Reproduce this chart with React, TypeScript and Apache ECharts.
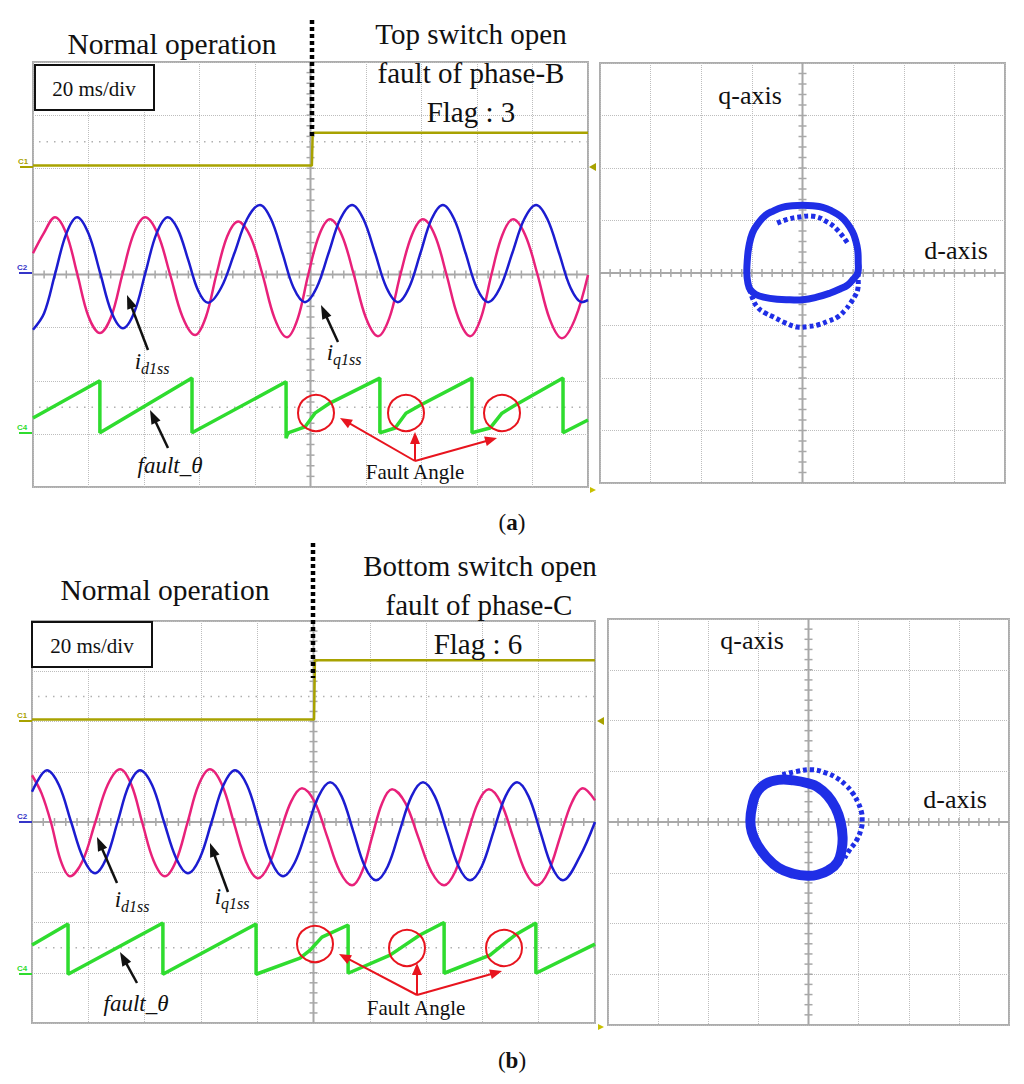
import React, { useEffect, useRef } from "react";
import * as echarts from "echarts";

const FONT = "'Liberation Serif', 'Times New Roman', serif";

// ---- axis settings (oscilloscope: 20 ms/div, 8 vertical divisions) ----
const TIME_MIN = 0;
const TIME_MAX = 200;
const TIME_DIV = 20;
const DIV_MIN = 0;
const DIV_MAX = 8;
const XY_MIN = -4;
const XY_MAX = 4;

// ---- panel (a) traces: [time ms, divisions] ----
const C1_A = [[0, 6.05], [100.5, 6.05], [100.8, 6.67], [200, 6.67]];
const PINK_A = [[0, 4.4], [3.8, 4.77], [7.9, 5.08], [12.0, 4.77], [16.0, 4.0], [20.0, 3.21], [24.1, 2.9], [28.2, 3.21], [32.2, 4.0], [36.3, 4.77], [40.4, 5.08], [44.9, 4.77], [49.4, 4.0], [53.9, 3.2], [58.4, 2.86], [62.3, 3.2], [66.1, 4.0], [70.0, 4.72], [73.9, 5.0], [78.3, 4.72], [82.7, 4.0], [87.1, 3.17], [91.5, 2.82], [95.4, 3.17], [99.2, 4.0], [103.1, 4.74], [107.0, 5.04], [111.3, 4.74], [115.6, 4.0], [120.0, 3.18], [124.3, 2.84], [128.4, 3.18], [132.4, 4.0], [136.5, 4.74], [140.5, 5.04], [144.8, 4.74], [149.0, 4.0], [153.3, 3.18], [157.5, 2.84], [161.4, 3.18], [165.2, 4.0], [169.1, 4.74], [173.0, 5.04], [177.4, 4.74], [181.8, 4.0], [186.2, 3.16], [190.6, 2.8], [195.3, 3.16], [200, 3.99]];
const BLUE_A = [[0, 2.96], [4.0, 3.27], [8.0, 4.02], [12.0, 4.77], [15.9, 5.08], [20.0, 4.77], [24.2, 4.03], [28.3, 3.29], [32.4, 2.99], [36.5, 3.29], [40.5, 4.03], [44.5, 4.77], [48.6, 5.08], [52.2, 4.85], [55.9, 4.28], [59.5, 3.7], [63.1, 3.47], [67.8, 3.75], [72.5, 4.39], [77.1, 5.04], [81.8, 5.31], [85.8, 5.04], [89.9, 4.4], [93.9, 3.75], [98.0, 3.48], [102.2, 3.75], [106.5, 4.4], [110.7, 5.04], [115.0, 5.31], [119.1, 5.04], [123.3, 4.4], [127.4, 3.75], [131.5, 3.48], [135.5, 3.75], [139.6, 4.4], [143.6, 5.04], [147.7, 5.31], [151.8, 5.04], [155.9, 4.4], [159.9, 3.75], [164.0, 3.48], [168.3, 3.75], [172.7, 4.4], [177.0, 5.04], [181.3, 5.31], [185.4, 5.04], [189.6, 4.4], [193.7, 3.75], [197.8, 3.48], [200, 3.52]];
const C4_A = [[0, 1.3], [24.1, 2.0], [24.1, 1.02], [57.3, 2.05], [57.3, 1.02], [91.2, 1.98], [91.2, 0.92], [91.9, 1.02], [98.0, 1.13], [101.6, 1.39], [107.0, 1.58], [125.0, 2.05], [125.0, 1.02], [130.5, 1.11], [134.4, 1.39], [139.5, 1.54], [158.2, 2.05], [158.2, 1.02], [164.7, 1.11], [169.0, 1.39], [173.7, 1.54], [191.0, 2.05], [191.0, 1.02], [200, 1.26]];

// ---- panel (b) traces ----
const C1_B = [[0, 6.04], [100.2, 6.04], [100.5, 7.22], [200, 7.22]];
const PINK_B = [[0, 4.93], [3.4, 4.57], [6.8, 3.98], [10.2, 3.23], [13.5, 2.92], [18.0, 3.23], [22.4, 3.98], [26.9, 4.74], [31.3, 5.05], [35.3, 4.74], [39.2, 3.98], [43.2, 3.23], [47.2, 2.92], [51.2, 3.23], [55.2, 3.98], [59.2, 4.74], [63.2, 5.05], [67.5, 4.74], [71.8, 3.97], [76.1, 3.2], [80.3, 2.88], [84.2, 3.15], [88.1, 3.78], [92.0, 4.4], [95.9, 4.67], [100.4, 4.4], [104.8, 3.72], [109.3, 3.02], [113.7, 2.74], [117.3, 3.02], [120.8, 3.7], [124.4, 4.38], [127.9, 4.65], [132.6, 4.38], [137.2, 3.7], [141.8, 3.02], [146.4, 2.74], [150.4, 3.02], [154.4, 3.7], [158.4, 4.38], [162.3, 4.65], [166.6, 4.38], [170.9, 3.7], [175.2, 3.02], [179.4, 2.74], [183.5, 3.02], [187.6, 3.7], [191.7, 4.38], [195.7, 4.67], [200, 4.43]];
const BLUE_B = [[0, 4.6], [5.3, 5.03], [9.6, 4.73], [13.9, 4.0], [18.2, 3.28], [22.4, 2.98], [26.4, 3.28], [30.4, 4.0], [34.4, 4.73], [38.4, 5.03], [42.7, 4.73], [46.9, 4.0], [51.2, 3.28], [55.4, 2.98], [59.6, 3.28], [63.8, 4.0], [68.0, 4.73], [72.1, 5.03], [76.4, 4.73], [80.7, 3.98], [85.0, 3.22], [89.2, 2.92], [93.4, 3.2], [97.6, 3.85], [101.8, 4.51], [105.9, 4.79], [110.0, 4.51], [114.1, 3.82], [118.2, 3.12], [122.2, 2.84], [126.4, 3.12], [130.6, 3.82], [134.8, 4.51], [138.9, 4.79], [143.1, 4.51], [147.3, 3.82], [151.5, 3.12], [155.6, 2.84], [159.8, 3.12], [164.0, 3.82], [168.2, 4.51], [172.3, 4.79], [176.4, 4.51], [180.5, 3.82], [184.6, 3.12], [188.6, 2.84], [194.5, 3.3], [200, 4.0]];
const C4_B = [[0, 1.55], [12.8, 1.97], [12.8, 0.97], [46.5, 1.99], [46.5, 0.97], [79.6, 1.97], [79.6, 0.97], [95.2, 1.29], [98.8, 1.45], [103.0, 1.71], [112.3, 1.95], [112.3, 0.99], [127.2, 1.35], [137.8, 1.75], [146.4, 2.0], [146.4, 0.99], [162.7, 1.35], [171.6, 1.75], [179.0, 1.99], [179.0, 0.99], [200, 1.57]];

// ---- d-q trajectories: [d div, q div] (closed loops listed once around) ----
const XY_A_MAIN = [[1.09, 0], [1.1, 0.22], [1.09, 0.44], [1.05, 0.62], [0.99, 0.78], [0.88, 0.95], [0.75, 1.08], [0.58, 1.18], [0.4, 1.25], [0.2, 1.28], [0, 1.29], [-0.2, 1.28], [-0.4, 1.25], [-0.58, 1.18], [-0.73, 1.1], [-0.88, 0.94], [-0.99, 0.76], [-1.06, 0.5], [-1.09, 0.25], [-1.1, 0], [-1.08, -0.18], [-1.03, -0.32], [-0.92, -0.41], [-0.77, -0.46], [-0.5, -0.5], [-0.25, -0.51], [0, -0.51], [0.28, -0.46], [0.55, -0.38], [0.75, -0.3], [0.89, -0.23], [1.0, -0.12]];
const XY_A_OUTER = [[-1.08, -0.18], [-1.0, -0.45], [-0.89, -0.65], [-0.74, -0.76], [-0.57, -0.84], [-0.34, -0.95], [-0.1, -1.03], [0.1, -1.02], [0.3, -0.99], [0.5, -0.92], [0.69, -0.84], [0.84, -0.71], [0.95, -0.57], [1.03, -0.45], [1.09, -0.32], [1.1, -0.1], [1.09, 0.1]];
const XY_A_ARC = [[-0.5, 0.95], [-0.3, 1.02], [-0.1, 1.06], [0.22, 1.08], [0.49, 0.97], [0.69, 0.82], [0.89, 0.57]];
const XY_B_MAIN = [[-1.16, 0.04], [-1.12, 0.33], [-1.04, 0.57], [-0.86, 0.75], [-0.6, 0.83], [-0.3, 0.82], [0.0, 0.76], [0.18, 0.69], [0.38, 0.52], [0.54, 0.28], [0.64, 0.0], [0.68, -0.3], [0.66, -0.55], [0.58, -0.79], [0.4, -0.95], [0.18, -1.04], [-0.02, -1.06], [-0.3, -1.02], [-0.6, -0.9], [-0.84, -0.69], [-1.02, -0.45], [-1.13, -0.2]];
const XY_B_OUTER = [[-0.52, 0.93], [-0.22, 1.0], [0.08, 1.03], [0.34, 0.97], [0.56, 0.87], [0.74, 0.73], [0.88, 0.57], [0.99, 0.38], [1.06, 0.18], [1.07, 0.04], [1.06, -0.1], [0.96, -0.36], [0.82, -0.55], [0.72, -0.71]];

const PINK = "#e8217a";
const BLUE = "#1c1cd0";
const GREEN = "#2fdc2f";
const OLIVE = "#a8a200";
const XYBLUE = "#1f2ee6";
const RED = "#e8141e";
const GRAY = "#a8a8a8";

const GRIDS = [
  { left: 33, top: 62, width: 555, height: 425 },
  { left: 600, top: 63, width: 405, height: 420 },
  { left: 32, top: 621, width: 563, height: 402 },
  { left: 608, top: 619, width: 401, height: 406 },
];

function crossData(kind) {
  const out = [];
  if (kind === "time") {
    const cx = (TIME_MIN + TIME_MAX) / 2;
    const cy = (DIV_MIN + DIV_MAX) / 2;
    out.push([cx, cy, 2], [cx, cy, 3], [cx, 6.5, 4], [cx, 1.5, 4]);
    for (let i = 1; i < 50; i++) out.push([TIME_MIN + i * 4, cy, 0]);
    for (let i = 1; i < 40; i++) out.push([cx, DIV_MIN + i * 0.2, 1]);
  } else {
    out.push([0, 0, 2], [0, 0, 3]);
    for (let i = 1; i < 40; i++) {
      out.push([XY_MIN + i * 0.2, 0, 0]);
      out.push([0, XY_MIN + i * 0.2, 1]);
    }
  }
  return out;
}

function renderCross(params, api) {
  const kind = api.value(2);
  const p = api.coord([api.value(0), api.value(1)]);
  const cs = params.coordSys;
  const st = { stroke: GRAY, lineWidth: 1.5 };
  if (kind === 0) return { type: "line", shape: { x1: p[0], y1: p[1] - 4, x2: p[0], y2: p[1] + 4 }, style: st };
  if (kind === 1) return { type: "line", shape: { x1: p[0] - 4, y1: p[1], x2: p[0] + 4, y2: p[1] }, style: st };
  if (kind === 2) return { type: "line", shape: { x1: cs.x, y1: p[1], x2: cs.x + cs.width, y2: p[1] }, style: { stroke: GRAY, lineWidth: 2 } };
  if (kind === 3) return { type: "line", shape: { x1: p[0], y1: cs.y, x2: p[0], y2: cs.y + cs.height }, style: { stroke: GRAY, lineWidth: 2 } };
  return { type: "line", shape: { x1: cs.x + 6, y1: p[1], x2: cs.x + cs.width, y2: p[1] }, style: { stroke: "#b0b0b0", lineWidth: 1.5, lineDash: [1.5, 6] } };
}

// d-q trajectory drawn through the cartesian axes (api.coord) as a smooth curve
function loopSeries(points, gi, width, closed, dash) {
  return {
    type: "custom", xAxisIndex: gi, yAxisIndex: gi, z: 3, silent: true,
    data: [points[0]],
    renderItem: (params, api) => ({
      type: closed ? "polygon" : "polyline",
      shape: { points: points.map((p) => api.coord(p)), smooth: 0.45 },
      style: { fill: "none", stroke: XYBLUE, lineWidth: width, lineDash: dash ? [4, 3] : null },
    }),
  };
}

function arrow(x1, y1, x2, y2, color, w, hl, hw) {
  const dx = x2 - x1, dy = y2 - y1;
  const L = Math.hypot(dx, dy);
  const ux = dx / L, uy = dy / L;
  const bx = x2 - ux * hl, by = y2 - uy * hl;
  const px = (-uy * hw) / 2, py = (ux * hw) / 2;
  return [
    { type: "line", z: 100, shape: { x1, y1, x2: bx + ux * 1, y2: by + uy * 1 }, style: { stroke: color, lineWidth: w } },
    { type: "polygon", z: 100, shape: { points: [[x2, y2], [bx + px, by + py], [bx - px, by - py]] }, style: { fill: color } },
  ];
}

function txt(text, x, y, size, opts = {}) {
  return {
    type: "text", z: 100, x, y,
    style: {
      text, fill: "#111", fontFamily: FONT, fontSize: size,
      fontStyle: opts.italic ? "italic" : "normal",
      align: opts.align || "center", verticalAlign: "middle",
    },
  };
}

function chan(label, color, y, tx) {
  return [
    { type: "text", z: 100, x: tx, y: y - 6, style: { text: label, fill: color, fontFamily: "'Liberation Sans', Arial, sans-serif", fontWeight: "bold", fontSize: 8, align: "left", verticalAlign: "middle" } },
    { type: "line", z: 100, shape: { x1: tx + 2, y1: y, x2: tx + 15, y2: y }, style: { stroke: color, lineWidth: 2 } },
  ];
}

function caption(letter, y) {
  return { type: "text", z: 100, x: 512, y, style: { text: "{n|(}{b|" + letter + "}{n|)}", align: "center", verticalAlign: "middle", rich: { n: { fontFamily: FONT, fontSize: 23, fill: "#111" }, b: { fontFamily: FONT, fontSize: 23, fontWeight: "bold", fill: "#111" } } } };
}

function buildGraphic() {
  const g = [];
  // panel (a)
  g.push(txt("Normal operation", 172, 44, 29.5));
  g.push(txt("Top switch open", 471, 34, 29));
  g.push(txt("fault of phase-B", 471, 73, 29));
  g.push(txt("Flag : 3", 471, 112, 29));
  g.push({ type: "rect", z: 100, shape: { x: 35, y: 65, width: 119, height: 45 }, style: { fill: "#fff", stroke: "#111", lineWidth: 2 } });
  g.push(txt("20 ms/div", 94, 89, 21));
  g.push({ type: "line", z: 101, shape: { x1: 312, y1: 20, x2: 312, y2: 137 }, style: { stroke: "#000", lineWidth: 4.5, lineDash: [4, 3] } });
  g.push(...chan("C1", OLIVE, 167, 18));
  g.push(...chan("C2", "#3535c8", 273, 17));
  g.push(...chan("C4", GREEN, 433, 17));
  g.push({ type: "polygon", z: 100, shape: { points: [[589, 167], [596, 163], [596, 171]] }, style: { fill: OLIVE } });
  g.push({ type: "polygon", z: 100, shape: { points: [[596, 490], [590, 487], [590, 493]] }, style: { fill: "#c8c000" } });
  g.push(...arrow(148, 350, 127, 295, "#111", 2.5, 14, 10));
  g.push(...arrow(338, 342, 321, 305, "#111", 2.5, 14, 10));
  g.push(...arrow(168, 448, 150, 410, "#111", 2.5, 14, 10));
  g.push(txt("i", 138, 361, 23, { italic: true }));
  g.push(txt("d1ss", 141, 368, 16, { italic: true, align: "left" }));
  g.push(txt("i", 330, 352, 23, { italic: true }));
  g.push(txt("q1ss", 333, 359, 16, { italic: true, align: "left" }));
  g.push(txt("fault_θ", 170, 465, 23, { italic: true }));
  [[316, 413], [406, 413], [502, 413]].forEach(([cx, cy]) =>
    g.push({ type: "circle", z: 100, shape: { cx, cy, r: 18 }, style: { fill: "none", stroke: RED, lineWidth: 2 } })
  );
  g.push(...arrow(415, 461, 340, 418, RED, 2, 12, 10));
  g.push(...arrow(415, 461, 415, 432, RED, 2, 12, 10));
  g.push(...arrow(415, 461, 497, 438, RED, 2, 12, 10));
  g.push(txt("Fault Angle", 415, 472, 21));
  g.push(txt("q-axis", 750, 95, 26));
  g.push(txt("d-axis", 956, 250, 26));
  g.push(caption("a", 522));

  // panel (b)
  g.push(txt("Normal operation", 165, 590, 29.5));
  g.push(txt("Bottom switch open", 480, 566, 29));
  g.push(txt("fault of phase-C", 479, 605, 29));
  g.push(txt("Flag : 6", 478, 644, 29));
  g.push({ type: "rect", z: 100, shape: { x: 32, y: 622, width: 120, height: 45 }, style: { fill: "#fff", stroke: "#111", lineWidth: 2 } });
  g.push(txt("20 ms/div", 92, 646, 21));
  g.push({ type: "line", z: 101, shape: { x1: 313, y1: 543, x2: 313, y2: 678 }, style: { stroke: "#000", lineWidth: 4.5, lineDash: [4, 3] } });
  g.push(...chan("C1", OLIVE, 721, 17));
  g.push(...chan("C2", "#3535c8", 822, 17));
  g.push(...chan("C4", GREEN, 974, 17));
  g.push({ type: "polygon", z: 100, shape: { points: [[597, 721], [604, 717], [604, 725]] }, style: { fill: OLIVE } });
  g.push({ type: "polygon", z: 100, shape: { points: [[604, 1027], [598, 1024], [598, 1030]] }, style: { fill: "#c8c000" } });
  g.push(...arrow(117, 883, 97, 837, "#111", 2.5, 14, 10));
  g.push(...arrow(228, 892, 210, 843, "#111", 2.5, 14, 10));
  g.push(...arrow(137, 983, 120, 952, "#111", 2.5, 14, 10));
  g.push(txt("i", 118, 899, 23, { italic: true }));
  g.push(txt("d1ss", 121, 906, 16, { italic: true, align: "left" }));
  g.push(txt("i", 218, 896, 23, { italic: true }));
  g.push(txt("q1ss", 221, 903, 16, { italic: true, align: "left" }));
  g.push(txt("fault_θ", 136, 1003, 23, { italic: true }));
  [[315, 944], [407, 948], [504, 948]].forEach(([cx, cy]) =>
    g.push({ type: "circle", z: 100, shape: { cx, cy, r: 18 }, style: { fill: "none", stroke: RED, lineWidth: 2 } })
  );
  g.push(...arrow(417, 995, 339, 954, RED, 2, 12, 10));
  g.push(...arrow(417, 995, 417, 963, RED, 2, 12, 10));
  g.push(...arrow(417, 995, 502, 971, RED, 2, 12, 10));
  g.push(txt("Fault Angle", 416, 1008, 21));
  g.push(txt("q-axis", 752, 640, 26));
  g.push(txt("d-axis", 955, 799, 26));
  g.push(caption("b", 1060));
  return g;
}

function axisCommon(min, max, interval, gridIndex) {
  return {
    type: "value", gridIndex, min, max, interval,
    axisLine: { show: false }, axisTick: { show: false }, axisLabel: { show: false },
    splitLine: { show: true, lineStyle: { type: "dotted", color: "#bdbdbd", width: 1 } },
  };
}

function trace(data, color, width, gi, smooth) {
  return {
    type: "line", xAxisIndex: gi, yAxisIndex: gi, data, z: 3,
    showSymbol: false, symbol: "none", smooth: smooth || false, silent: true,
    lineStyle: { color, width },
  };
}

export default function App() {
  const ref = useRef(null);
  useEffect(() => {
    const chart = echarts.init(ref.current, null, { renderer: "svg" });
    const option = {
      animation: false,
      backgroundColor: "#ffffff",
      grid: GRIDS.map((g) => ({ ...g, show: true, borderColor: "#adadad", borderWidth: 2, backgroundColor: "rgba(0,0,0,0)" })),
      xAxis: [
        axisCommon(TIME_MIN, TIME_MAX, TIME_DIV, 0),
        axisCommon(XY_MIN, XY_MAX, 1, 1),
        axisCommon(TIME_MIN, TIME_MAX, TIME_DIV, 2),
        axisCommon(XY_MIN, XY_MAX, 1, 3),
      ],
      yAxis: [
        axisCommon(DIV_MIN, DIV_MAX, 1, 0),
        axisCommon(XY_MIN, XY_MAX, 1, 1),
        axisCommon(DIV_MIN, DIV_MAX, 1, 2),
        axisCommon(XY_MIN, XY_MAX, 1, 3),
      ],
      series: [
        { type: "custom", xAxisIndex: 0, yAxisIndex: 0, z: 1, silent: true, renderItem: renderCross, data: crossData("time") },
        { type: "custom", xAxisIndex: 1, yAxisIndex: 1, z: 1, silent: true, renderItem: renderCross, data: crossData("xy") },
        { type: "custom", xAxisIndex: 2, yAxisIndex: 2, z: 1, silent: true, renderItem: renderCross, data: crossData("time") },
        { type: "custom", xAxisIndex: 3, yAxisIndex: 3, z: 1, silent: true, renderItem: renderCross, data: crossData("xy") },
        trace(C1_A, OLIVE, 2.5, 0, false),
        trace(PINK_A, PINK, 2.5, 0, 0.35),
        trace(BLUE_A, BLUE, 2.5, 0, 0.35),
        trace(C4_A, GREEN, 3.5, 0, false),
        loopSeries(XY_A_MAIN, 1, 7, true, false),
        loopSeries(XY_A_OUTER, 1, 5, false, true),
        loopSeries(XY_A_ARC, 1, 5, false, true),
        trace(C1_B, OLIVE, 2.5, 2, false),
        trace(PINK_B, PINK, 2.5, 2, 0.35),
        trace(BLUE_B, BLUE, 2.5, 2, 0.35),
        trace(C4_B, GREEN, 3.5, 2, false),
        loopSeries(XY_B_MAIN, 3, 10, true, false),
        loopSeries(XY_B_OUTER, 3, 5, false, true),
      ],
      graphic: { elements: buildGraphic() },
    };
    chart.setOption(option);
    return () => chart.dispose();
  }, []);
  return <div ref={ref} style={{ position: "absolute", left: 0, top: 0, width: 1024, height: 1084, background: "#fff" }} />;
}
